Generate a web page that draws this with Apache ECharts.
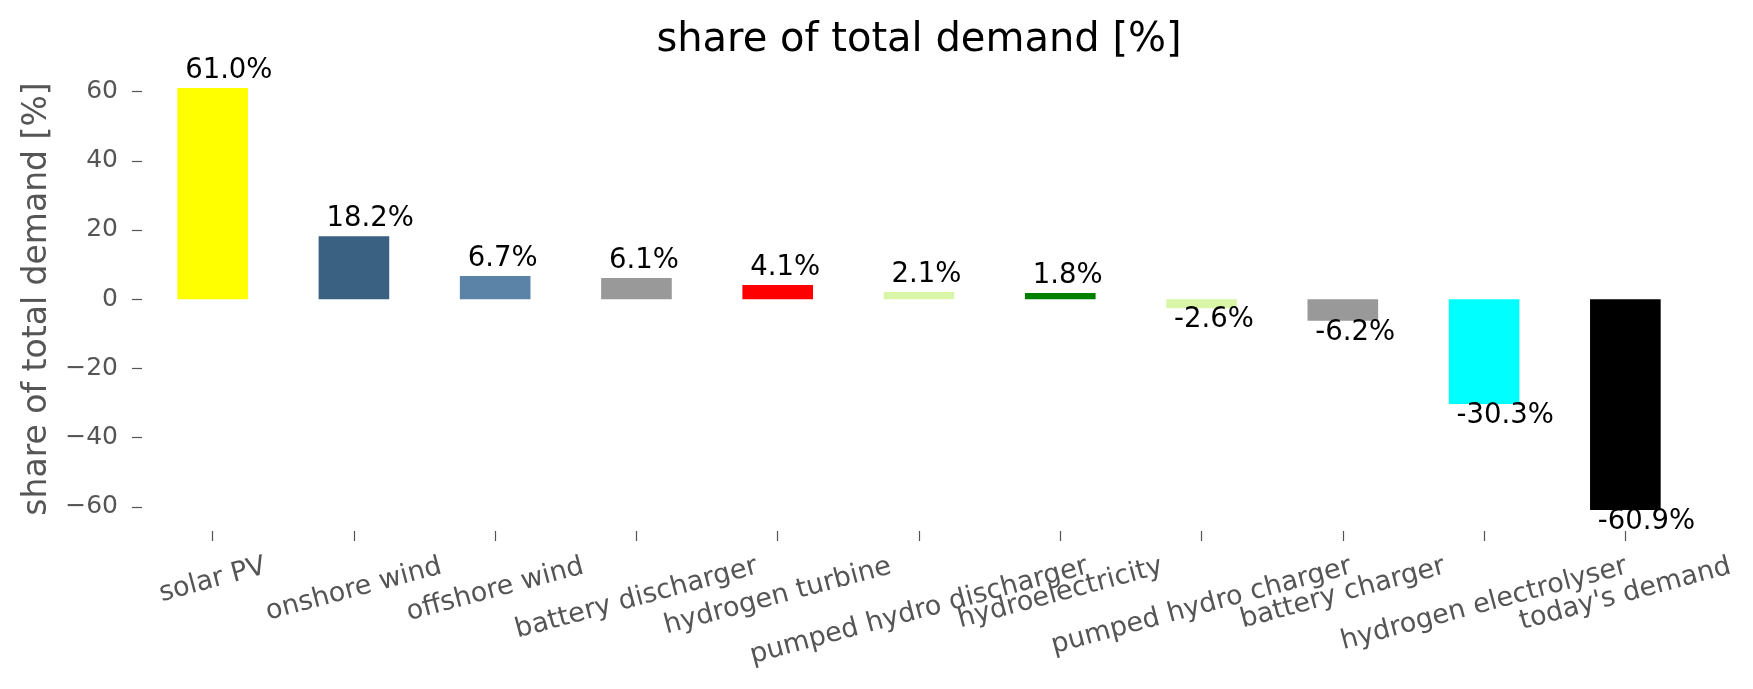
<!DOCTYPE html>
<html>
<head>
<meta charset="utf-8">
<script src="https://cdn.jsdelivr.net/npm/echarts@6/dist/echarts.min.js"></script>
<style>
html,body{margin:0;padding:0;background:#ffffff;}
#chart{width:1753px;height:689px;}
</style>
</head>
<body>
<div id="chart"></div>
<script>
// ---- data ----
const categories = ['solar PV', 'onshore wind', 'offshore wind', 'battery discharger', 'hydrogen turbine',
  'pumped hydro discharger', 'hydroelectricity', 'pumped hydro charger', 'battery charger',
  'hydrogen electrolyser', "today's demand"];
const shares = [61.0, 18.2, 6.7, 6.1, 4.1, 2.1, 1.8, -2.6, -6.2, -30.3, -60.9];
const barColors = ['#ffff00', '#3b6182', '#5b83a7', '#999999', '#ff0000', '#d9f5a8',
  '#008000', '#d9f5a8', '#999999', '#00ffff', '#000000'];
const yTicks = [-60, -40, -20, 0, 20, 40, 60];
const titleText = 'share of total demand [%]';
const yName = 'share of total demand [%]';

// ---- layout helpers ----
const FONT = '"DejaVu Sans", sans-serif';
const GRID = {left: 142, right: 57, top: 67, height: 464};
const xTickFs = 27, yTickFs = 25, titleFs = 40, yNameFs = 33, barFs = 27.5;
const ctx = document.createElement('canvas').getContext('2d');
const ang = 15 * Math.PI / 180;

// matplotlib-style centred rotated labels: the rotated box hangs centred below its tick
ctx.font = xTickFs + 'px ' + FONT;
const xData = categories.map(function (name) {
  const W = ctx.measureText(name).width;
  const H = W * Math.sin(ang) + 1.164 * xTickFs * Math.cos(ang);
  const D = H / 2;
  const padTop = Math.max(0, D * Math.cos(ang) - xTickFs / 2);
  const padRight = 2 * D * Math.sin(ang);
  return {
    value: name,
    textStyle: {
      align: 'center', verticalAlign: 'top',
      fontFamily: FONT, fontSize: xTickFs, color: '#555555',
      padding: [padTop, padRight, 0, 0]
    }
  };
});

ctx.font = titleFs + 'px ' + FONT;
const titleW = ctx.measureText(titleText).width;
const gridCenter = GRID.left + (1753 - GRID.left - GRID.right) / 2;

const chart = echarts.init(document.getElementById('chart'), null, {renderer: 'canvas'});
chart.setOption({
  animation: false,
  backgroundColor: '#ffffff',
  title: {
    text: titleText,
    left: gridCenter - titleW / 2,
    top: 21,
    padding: 0,
    textStyle: {fontFamily: FONT, fontSize: titleFs, fontWeight: 'normal', color: '#000000'}
  },
  grid: {left: GRID.left, right: GRID.right, top: GRID.top, height: GRID.height,
    containLabel: false, outerBoundsMode: 'none'},
  xAxis: {
    type: 'category',
    data: xData,
    boundaryGap: true,
    axisLine: {show: false, onZero: false},
    splitLine: {show: false},
    axisTick: {show: true, alignWithLabel: true, length: 10, lineStyle: {color: '#555555', width: 1.2}},
    axisLabel: {
      interval: 0, rotate: 15, margin: 20,
      fontFamily: FONT, fontSize: xTickFs, color: '#555555'
    }
  },
  yAxis: {
    type: 'value',
    min: -67, max: 67.1,
    name: yName, nameLocation: 'middle', nameRotate: 90, nameGap: 86,
    nameTextStyle: {fontFamily: FONT, fontSize: yNameFs, color: '#555555'},
    axisLine: {show: false},
    splitLine: {show: false},
    axisTick: {show: true, length: 10, customValues: yTicks, lineStyle: {color: '#555555', width: 1.2}},
    axisLabel: {
      customValues: yTicks, margin: 24, fontFamily: FONT, fontSize: yTickFs, color: '#555555',
      formatter: function (v) { return v < 0 ? '\u2212' + Math.abs(v) : String(v); }
    }
  },
  series: [{
    type: 'bar',
    barWidth: '50%',
    data: shares.map(function (v, i) {
      return {
        value: v,
        itemStyle: {color: barColors[i]},
        label: {position: v >= 0 ? 'top' : 'bottom', distance: v >= 0 ? 3 : -2}
      };
    }),
    label: {
      show: true, align: 'left', offset: [-27.5, 0],
      fontFamily: FONT, fontSize: barFs, color: '#000000',
      formatter: function (p) { return p.value.toFixed(1) + '%'; }
    }
  }]
});
</script>
</body>
</html>
